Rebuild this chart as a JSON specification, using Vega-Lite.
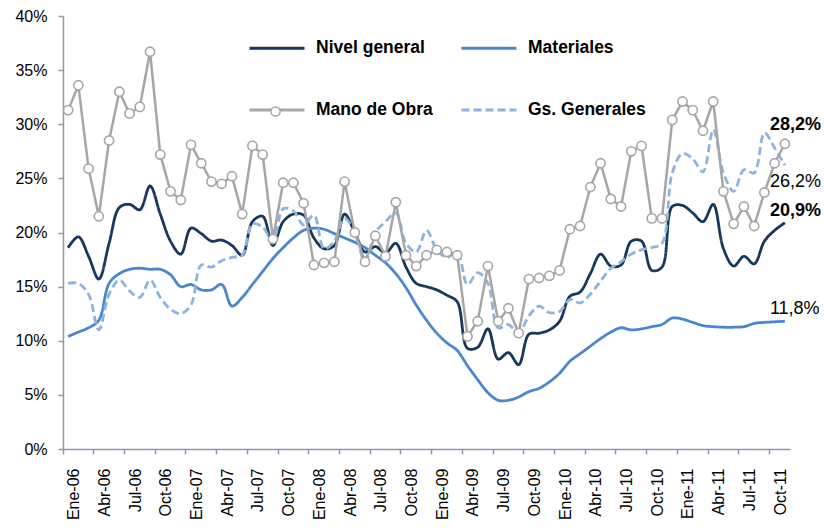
{
  "$schema": "https://vega.github.io/schema/vega-lite/v6.json",
  "width": 727,
  "height": 433,
  "autosize": {"type": "none"},
  "padding": {"left": 63, "top": 16, "right": 34, "bottom": 83},
  "background": "white",
  "config": {"view": {"stroke": null}},
  "data": {"values": [
    {"mes":"Ene-06","ng":18.6,"mat":10.4,"mo":31.3,"gg":15.3},
    {"mes":"Feb-06","ng":19.6,"mat":10.8,"mo":33.6,"gg":15.3},
    {"mes":"Mar-06","ng":17.8,"mat":11.2,"mo":25.9,"gg":14.3},
    {"mes":"Abr-06","ng":15.7,"mat":11.9,"mo":21.5,"gg":11.0},
    {"mes":"May-06","ng":19.0,"mat":15.3,"mo":28.5,"gg":14.3},
    {"mes":"Jun-06","ng":22.3,"mat":16.2,"mo":33.0,"gg":15.6},
    {"mes":"Jul-06","ng":22.6,"mat":16.6,"mo":31.0,"gg":14.6},
    {"mes":"Ago-06","ng":22.1,"mat":16.7,"mo":31.6,"gg":14.0},
    {"mes":"Sep-06","ng":24.3,"mat":16.6,"mo":36.7,"gg":15.6},
    {"mes":"Oct-06","ng":21.7,"mat":16.6,"mo":27.2,"gg":14.0},
    {"mes":"Nov-06","ng":19.2,"mat":16.1,"mo":23.8,"gg":12.9},
    {"mes":"Dic-06","ng":18.0,"mat":15.0,"mo":23.0,"gg":12.5},
    {"mes":"Ene-07","ng":20.4,"mat":15.2,"mo":28.1,"gg":13.3},
    {"mes":"Feb-07","ng":19.9,"mat":14.7,"mo":26.4,"gg":17.0},
    {"mes":"Mar-07","ng":19.2,"mat":14.7,"mo":24.7,"gg":16.8},
    {"mes":"Abr-07","ng":19.3,"mat":15.2,"mo":24.5,"gg":17.4},
    {"mes":"May-07","ng":18.8,"mat":13.2,"mo":25.2,"gg":17.7},
    {"mes":"Jun-07","ng":17.9,"mat":14.0,"mo":21.7,"gg":17.9},
    {"mes":"Jul-07","ng":21.0,"mat":15.2,"mo":28.0,"gg":20.8},
    {"mes":"Ago-07","ng":21.5,"mat":16.4,"mo":27.2,"gg":20.5},
    {"mes":"Sep-07","ng":18.8,"mat":17.6,"mo":19.4,"gg":19.2},
    {"mes":"Oct-07","ng":21.0,"mat":18.6,"mo":24.6,"gg":22.2},
    {"mes":"Nov-07","ng":21.7,"mat":19.5,"mo":24.6,"gg":22.0},
    {"mes":"Dic-07","ng":21.6,"mat":20.2,"mo":22.7,"gg":20.7},
    {"mes":"Ene-08","ng":19.5,"mat":20.4,"mo":17.0,"gg":21.6},
    {"mes":"Feb-08","ng":18.5,"mat":20.3,"mo":17.2,"gg":18.5},
    {"mes":"Mar-08","ng":18.8,"mat":19.9,"mo":17.3,"gg":19.2},
    {"mes":"Abr-08","ng":21.7,"mat":19.5,"mo":24.7,"gg":21.3},
    {"mes":"May-08","ng":20.0,"mat":19.1,"mo":20.0,"gg":20.0},
    {"mes":"Jun-08","ng":18.2,"mat":18.6,"mo":17.3,"gg":17.3},
    {"mes":"Jul-08","ng":18.7,"mat":17.9,"mo":19.7,"gg":20.0},
    {"mes":"Ago-08","ng":18.1,"mat":17.2,"mo":17.8,"gg":21.0},
    {"mes":"Sep-08","ng":19.0,"mat":16.2,"mo":22.8,"gg":21.8},
    {"mes":"Oct-08","ng":16.8,"mat":14.9,"mo":17.9,"gg":19.0},
    {"mes":"Nov-08","ng":15.3,"mat":13.3,"mo":16.9,"gg":18.2},
    {"mes":"Dic-08","ng":15.0,"mat":11.9,"mo":17.9,"gg":20.2},
    {"mes":"Ene-09","ng":14.7,"mat":10.7,"mo":18.4,"gg":18.4},
    {"mes":"Feb-09","ng":14.2,"mat":9.8,"mo":18.2,"gg":17.7},
    {"mes":"Mar-09","ng":13.6,"mat":9.1,"mo":17.9,"gg":18.2},
    {"mes":"Abr-09","ng":9.3,"mat":7.7,"mo":10.4,"gg":15.2},
    {"mes":"May-09","ng":9.4,"mat":6.4,"mo":11.8,"gg":16.3},
    {"mes":"Jun-09","ng":11.1,"mat":5.2,"mo":16.9,"gg":15.3},
    {"mes":"Jul-09","ng":8.3,"mat":4.5,"mo":11.8,"gg":11.2},
    {"mes":"Ago-09","ng":8.9,"mat":4.5,"mo":13.0,"gg":11.5},
    {"mes":"Sep-09","ng":7.8,"mat":4.8,"mo":10.7,"gg":10.7},
    {"mes":"Oct-09","ng":10.6,"mat":5.3,"mo":15.7,"gg":12.3},
    {"mes":"Nov-09","ng":10.7,"mat":5.6,"mo":15.8,"gg":13.2},
    {"mes":"Dic-09","ng":11.0,"mat":6.2,"mo":16.0,"gg":12.6},
    {"mes":"Ene-10","ng":11.8,"mat":7.0,"mo":16.5,"gg":12.7},
    {"mes":"Feb-10","ng":14.1,"mat":8.1,"mo":20.3,"gg":13.8},
    {"mes":"Mar-10","ng":14.5,"mat":8.8,"mo":20.6,"gg":13.5},
    {"mes":"Abr-10","ng":16.2,"mat":9.5,"mo":24.2,"gg":14.3},
    {"mes":"May-10","ng":18.0,"mat":10.2,"mo":26.4,"gg":15.5},
    {"mes":"Jun-10","ng":16.9,"mat":10.8,"mo":23.1,"gg":16.7},
    {"mes":"Jul-10","ng":17.0,"mat":11.2,"mo":22.4,"gg":17.3},
    {"mes":"Ago-10","ng":19.2,"mat":11.0,"mo":27.5,"gg":18.0},
    {"mes":"Sep-10","ng":19.2,"mat":11.1,"mo":28.0,"gg":18.4},
    {"mes":"Oct-10","ng":16.5,"mat":11.3,"mo":21.3,"gg":18.6},
    {"mes":"Nov-10","ng":16.8,"mat":11.5,"mo":21.3,"gg":19.0},
    {"mes":"Dic-10","ng":22.4,"mat":12.1,"mo":30.4,"gg":25.5},
    {"mes":"Ene-11","ng":22.5,"mat":12.0,"mo":32.1,"gg":27.3},
    {"mes":"Feb-11","ng":21.8,"mat":11.7,"mo":31.3,"gg":26.8},
    {"mes":"Mar-11","ng":21.0,"mat":11.4,"mo":29.4,"gg":25.6},
    {"mes":"Abr-11","ng":22.6,"mat":11.3,"mo":32.1,"gg":29.5},
    {"mes":"May-11","ng":18.5,"mat":11.25,"mo":23.8,"gg":25.5},
    {"mes":"Jun-11","ng":16.9,"mat":11.25,"mo":20.8,"gg":23.8},
    {"mes":"Jul-11","ng":17.8,"mat":11.3,"mo":22.4,"gg":25.8},
    {"mes":"Ago-11","ng":17.1,"mat":11.6,"mo":20.6,"gg":25.5},
    {"mes":"Sep-11","ng":19.2,"mat":11.7,"mo":23.7,"gg":29.2},
    {"mes":"Oct-11","ng":20.2,"mat":11.75,"mo":26.4,"gg":27.8},
    {"mes":"Nov-11","ng":20.9,"mat":11.8,"mo":28.2,"gg":26.2}
  ]},
  "transform": [{"fold": ["ng", "mat", "mo", "gg"], "as": ["serie", "valor"]}],
  "encoding": {
    "x": {
      "field": "mes", "type": "ordinal",
      "scale": {"type": "band", "paddingInner": 0, "paddingOuter": 0,
        "domain": ["Ene-06","Feb-06","Mar-06","Abr-06","May-06","Jun-06","Jul-06","Ago-06","Sep-06","Oct-06","Nov-06","Dic-06",
                   "Ene-07","Feb-07","Mar-07","Abr-07","May-07","Jun-07","Jul-07","Ago-07","Sep-07","Oct-07","Nov-07","Dic-07",
                   "Ene-08","Feb-08","Mar-08","Abr-08","May-08","Jun-08","Jul-08","Ago-08","Sep-08","Oct-08","Nov-08","Dic-08",
                   "Ene-09","Feb-09","Mar-09","Abr-09","May-09","Jun-09","Jul-09","Ago-09","Sep-09","Oct-09","Nov-09","Dic-09",
                   "Ene-10","Feb-10","Mar-10","Abr-10","May-10","Jun-10","Jul-10","Ago-10","Sep-10","Oct-10","Nov-10","Dic-10",
                   "Ene-11","Feb-11","Mar-11","Abr-11","May-11","Jun-11","Jul-11","Ago-11","Sep-11","Oct-11","Nov-11"]},
      "axis": {
        "title": null, "grid": false,
        "values": ["Ene-06","Abr-06","Jul-06","Oct-06","Ene-07","Abr-07","Jul-07","Oct-07","Ene-08","Abr-08","Jul-08","Oct-08",
                   "Ene-09","Abr-09","Jul-09","Oct-09","Ene-10","Abr-10","Jul-10","Oct-10","Ene-11","Abr-11","Jul-11","Oct-11"],
        "bandPosition": 0, "labelOffset": 6, "labelAngle": -90, "labelAlign": "right", "labelBaseline": "middle",
        "tickSize": 5, "labelPadding": 14, "domainColor": "#8E96AC", "tickColor": "#8E96AC", "domainWidth": 1.5, "tickWidth": 1.5,
        "labelFont": "Liberation Sans", "labelFontSize": 16, "labelColor": "#000000", "labelOverlap": false
      }
    },
    "y": {
      "field": "valor", "type": "quantitative",
      "scale": {"domain": [0, 40]},
      "axis": {
        "title": null, "grid": false, "values": [0,5,10,15,20,25,30,35,40],
        "labelExpr": "datum.value + '%'", "tickSize": 5, "labelPadding": 11,
        "domainColor": "#8E96AC", "tickColor": "#8E96AC", "domainWidth": 1.5, "tickWidth": 1.5,
        "labelFont": "Liberation Sans", "labelFontSize": 16, "labelColor": "#000000"
      }
    }
  },
  "layer": [
    {
      "transform": [{"filter": "datum.serie != 'mo'"}],
      "mark": {"type": "line", "interpolate": "catmull-rom", "strokeWidth": 2.8},
      "encoding": {
        "color": {"field": "serie", "type": "nominal",
          "scale": {"domain": ["ng","mo","mat","gg"], "range": ["#17375E","#A6A6A6","#4A86D0","#8DB3E2"]},
          "legend": {"title": null, "orient": "none", "legendX": 185, "legendY": 3, "columns": 2,
            "symbolType": "stroke", "symbolSize": 3025, "symbolStrokeWidth": 2.8,
            "labelFont": "Liberation Sans", "labelFontSize": 17.5, "labelFontWeight": "bold", "labelColor": "#000000",
            "labelOffset": 10, "columnPadding": 22, "rowPadding": 24, "labelLimit": 300,
            "labelExpr": "datum.label == 'ng' ? 'Nivel general' : datum.label == 'mat' ? 'Materiales' : datum.label == 'mo' ? 'Mano de Obra' : 'Gs. Generales'"}},
        "strokeDash": {"field": "serie", "type": "nominal",
          "scale": {"domain": ["ng","mo","mat","gg"], "range": [[1,0],[1,0],[1,0],[8,4]]},
          "legend": {"title": null, "orient": "none", "legendX": 185, "legendY": 3, "columns": 2,
            "symbolType": "stroke", "symbolSize": 3025, "symbolStrokeWidth": 2.8,
            "labelFont": "Liberation Sans", "labelFontSize": 17.5, "labelFontWeight": "bold", "labelColor": "#000000",
            "labelOffset": 10, "columnPadding": 22, "rowPadding": 24, "labelLimit": 300,
            "labelExpr": "datum.label == 'ng' ? 'Nivel general' : datum.label == 'mat' ? 'Materiales' : datum.label == 'mo' ? 'Mano de Obra' : 'Gs. Generales'"}}
      }
    },
    {
      "transform": [{"filter": "datum.serie == 'mo'"}],
      "mark": {"type": "line", "strokeWidth": 2.5},
      "encoding": {
        "color": {"field": "serie", "type": "nominal",
          "legend": {"title": null, "orient": "none", "legendX": 185, "legendY": 3, "columns": 2,
            "symbolType": "stroke", "symbolSize": 3025, "symbolStrokeWidth": 2.8,
            "labelFont": "Liberation Sans", "labelFontSize": 17.5, "labelFontWeight": "bold", "labelColor": "#000000",
            "labelOffset": 10, "columnPadding": 22, "rowPadding": 24, "labelLimit": 300,
            "labelExpr": "datum.label == 'ng' ? 'Nivel general' : datum.label == 'mat' ? 'Materiales' : datum.label == 'mo' ? 'Mano de Obra' : 'Gs. Generales'"}}
      }
    },
    {
      "transform": [{"filter": "datum.serie == 'mo'"}],
      "mark": {"type": "point", "filled": true, "fill": "#ffffff", "stroke": "#A6A6A6", "strokeWidth": 1.6, "size": 85, "opacity": 1},
      "encoding": {
        "shape": {"field": "serie", "type": "nominal", "scale": {"domain": ["mo"], "range": ["circle"]},
          "legend": {"title": null, "orient": "none", "legendX": 207, "legendY": 90, "labelExpr": "''",
            "symbolSize": 85,
            "encode": {"symbols": {"update": {"fill": {"value": "#ffffff"}, "stroke": {"value": "#A6A6A6"}, "strokeWidth": {"value": 1.6}, "opacity": {"value": 1}}}}}}
      }
    },
    {
      "transform": [{"filter": "datum.serie == 'mo' && datum.mes == 'Nov-11'"}],
      "mark": {"type": "text", "text": "28,2%", "align": "left", "dx": -15, "dy": -19, "font": "Liberation Sans", "fontSize": 18, "fontWeight": "bold", "color": "#000000"}
    },
    {
      "transform": [{"filter": "datum.serie == 'gg' && datum.mes == 'Nov-11'"}],
      "mark": {"type": "text", "text": "26,2%", "align": "left", "dx": -15, "dy": 17, "font": "Liberation Sans", "fontSize": 18, "color": "#000000"}
    },
    {
      "transform": [{"filter": "datum.serie == 'ng' && datum.mes == 'Nov-11'"}],
      "mark": {"type": "text", "text": "20,9%", "align": "left", "dx": -15, "dy": -12, "font": "Liberation Sans", "fontSize": 18, "fontWeight": "bold", "color": "#000000"}
    },
    {
      "transform": [{"filter": "datum.serie == 'mat' && datum.mes == 'Nov-11'"}],
      "mark": {"type": "text", "text": "11,8%", "align": "left", "dx": -15, "dy": -12, "font": "Liberation Sans", "fontSize": 18, "color": "#000000"}
    }
  ]
}
